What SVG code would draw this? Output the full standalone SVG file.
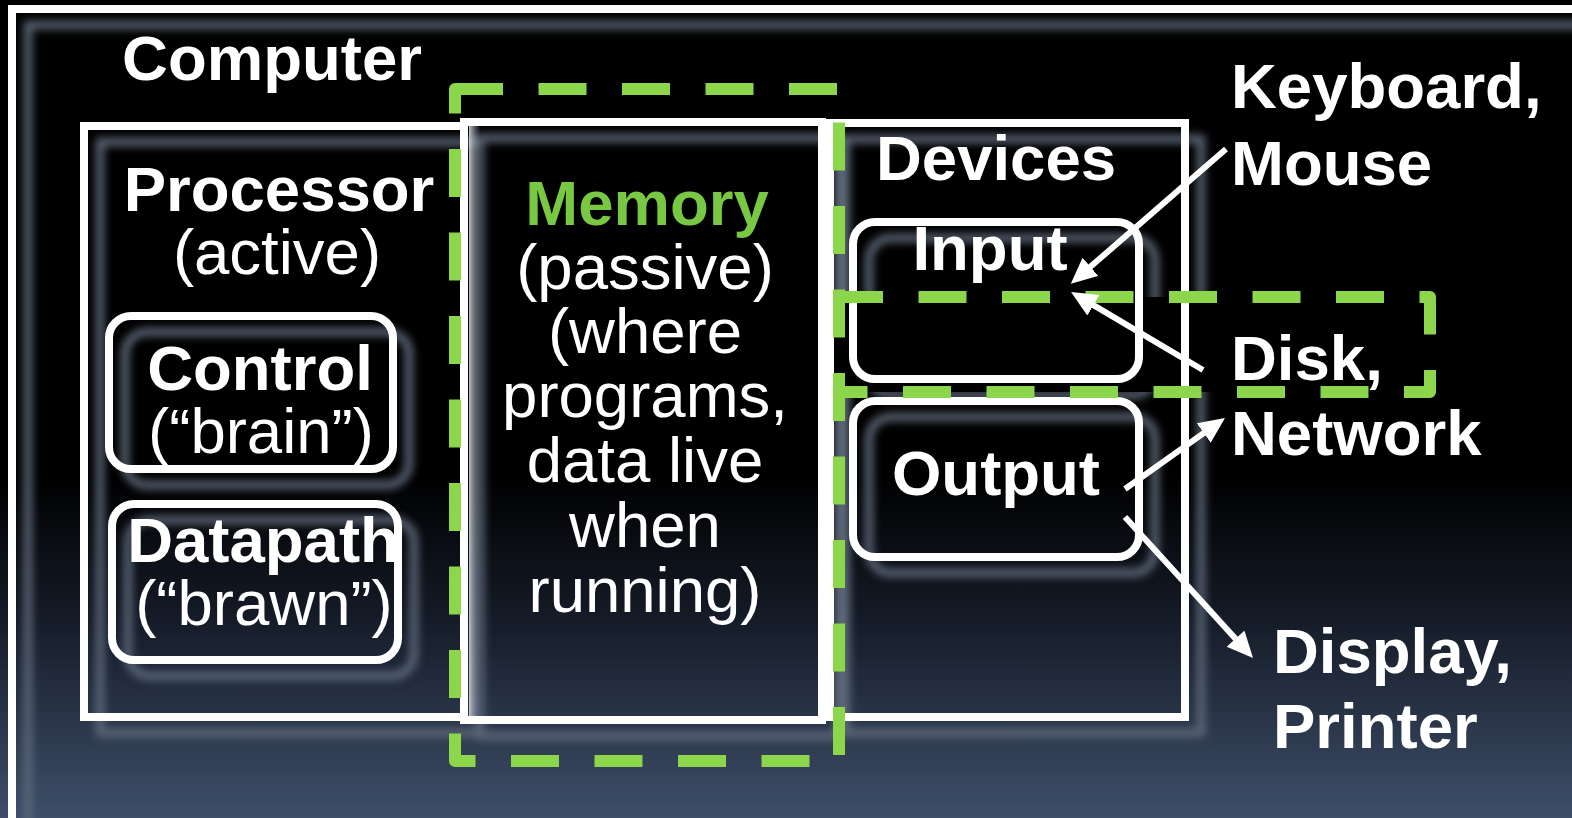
<svg xmlns="http://www.w3.org/2000/svg" xmlns:xlink="http://www.w3.org/1999/xlink" width="1572" height="818" viewBox="0 0 1572 818">
  <defs>
    <style>
      .box { fill: none; stroke: #ffffff; stroke-width: 8; }
      .frame { fill: none; stroke: #ffffff; stroke-width: 8; }
      .dash { fill: none; stroke: #8cd64b; stroke-width: 12; stroke-dasharray: 48 35.5; stroke-linejoin: round; }
      .t { font-family: "Liberation Sans", Arial, Helvetica, sans-serif; font-size: 63.5px; fill: #ffffff; }
      .b { font-weight: bold; }
      .mid { text-anchor: middle; }
      .green { fill: #78c843; }
      .arrow { stroke: #ffffff; stroke-width: 6; fill: none; marker-end: url(#head); }
    </style>
    <linearGradient id="bg" x1="0" y1="0" x2="0" y2="818" gradientUnits="userSpaceOnUse">
      <stop offset="0" stop-color="#000000"/>
      <stop offset="0.58" stop-color="#000000"/>
      <stop offset="0.75" stop-color="#141a26"/>
      <stop offset="1" stop-color="#3e4e69"/>
    </linearGradient>
    <linearGradient id="sheen" x1="0" y1="0" x2="1" y2="0">
      <stop offset="0" stop-color="#d4d8de" stop-opacity="0.9"/>
      <stop offset="1" stop-color="#8a93a0" stop-opacity="0"/>
    </linearGradient>
    <!-- soft offset halo cast by the white outlines -->
    <filter id="halo" x="-5%" y="-5%" width="115%" height="115%" color-interpolation-filters="sRGB">
      <feGaussianBlur in="SourceAlpha" stdDeviation="4"/>
      <feOffset dx="16" dy="16" result="b"/>
      <feFlood flood-color="#5d6879"/>
      <feComposite in2="b" operator="in"/>
    </filter>
    <marker id="head" markerUnits="userSpaceOnUse" markerWidth="30" markerHeight="26" refX="2" refY="12" orient="auto">
      <path d="M0,0 L26,12 L0,24 Z" fill="#ffffff"/>
    </marker>
    <rect id="shape-computer" x="12" y="9" width="1600" height="860"/>
    <rect id="shape-processor" x="84" y="126" width="380" height="591"/>
    <rect id="shape-memory" x="464" y="122" width="358" height="598"/>
    <rect id="shape-devices" x="830" y="123" width="355" height="594"/>
    <rect id="shape-control" x="109" y="316" width="284" height="153" rx="22"/>
    <rect id="shape-datapath" x="112" y="504" width="286" height="156" rx="22"/>
    <rect id="shape-input" x="853" y="222" width="286" height="157" rx="22"/>
    <rect id="shape-output" x="853" y="401" width="286" height="156" rx="22"/>
  </defs>

  <rect x="0" y="0" width="1572" height="818" fill="url(#bg)"/>

  <!-- halos beneath every outline -->
  <g id="halos" class="box" filter="url(#halo)">
    <use xlink:href="#shape-computer"/>
    <use xlink:href="#shape-processor"/>
    <use xlink:href="#shape-memory"/>
    <use xlink:href="#shape-devices"/>
    <use xlink:href="#shape-control"/>
    <use xlink:href="#shape-datapath"/>
    <use xlink:href="#shape-input"/>
    <use xlink:href="#shape-output"/>
  </g>

  <!-- storage band backing -->
  <rect x="833" y="297" width="597" height="95" fill="#000000"/>

  <g id="computer">
    <use xlink:href="#shape-computer" class="frame"/>
    <text class="t b mid" x="272" y="80">Computer</text>
  </g>

  <g id="processor">
    <use xlink:href="#shape-processor" class="box"/>
    <text class="t b mid" x="279" y="211">Processor</text>
    <text class="t mid" x="277" y="274">(active)</text>
  </g>

  <g id="control">
    <use xlink:href="#shape-control" class="box"/>
    <text class="t b mid" x="260" y="390">Control</text>
    <text class="t mid" x="261" y="453">(“brain”)</text>
  </g>

  <g id="datapath">
    <use xlink:href="#shape-datapath" class="box"/>
    <text class="t b mid" x="263" y="562">Datapath</text>
    <text class="t mid" x="264" y="625">(“brawn”)</text>
  </g>

  <g id="memory">
    <use xlink:href="#shape-memory" class="box"/>
    <rect x="469" y="126" width="12" height="590" fill="url(#sheen)"/>
    <text class="t b mid green" x="647" y="225">Memory</text>
    <text class="t mid" x="645" y="289">(passive)</text>
    <text class="t mid" x="645" y="353">(where</text>
    <text class="t mid" x="645" y="417">programs,</text>
    <text class="t mid" x="645" y="482">data live</text>
    <text class="t mid" x="645" y="547">when</text>
    <text class="t mid" x="645" y="612">running)</text>
  </g>

  <g id="devices">
    <use xlink:href="#shape-devices" class="box"/>
    <text class="t b mid" x="996" y="180">Devices</text>
  </g>

  <g id="input">
    <use xlink:href="#shape-input" class="box"/>
    <text class="t b mid" x="990" y="270">Input</text>
  </g>

  <g id="output">
    <use xlink:href="#shape-output" class="box"/>
    <text class="t b mid" x="996" y="495">Output</text>
  </g>

  <!-- dashed groupings -->
  <g id="memory-hierarchy">
    <path class="dash" d="M455,89 H839 V761 H455 Z"/>
  </g>
  <g id="storage">
    <path class="dash" d="M835,297 H1430 V392 H833"/>
  </g>

  <g id="keyboard-mouse">
    <text class="t b" x="1231" y="108">Keyboard,</text>
    <text class="t b" x="1231" y="185">Mouse</text>
  </g>
  <g id="disk-network">
    <text class="t b" x="1231" y="380">Disk,</text>
    <text class="t b" x="1231" y="455">Network</text>
  </g>
  <g id="display-printer">
    <text class="t b" x="1273" y="673">Display,</text>
    <text class="t b" x="1273" y="748">Printer</text>
  </g>

  <g id="connectors">
    <line class="arrow" x1="1226" y1="149" x2="1088.9" y2="268.1"/>
    <line class="arrow" x1="1203" y1="370" x2="1091.7" y2="304.2"/>
    <line class="arrow" x1="1125" y1="489" x2="1205.4" y2="431.9"/>
    <line class="arrow" x1="1125" y1="517" x2="1236.9" y2="640.2"/>
  </g>
</svg>
